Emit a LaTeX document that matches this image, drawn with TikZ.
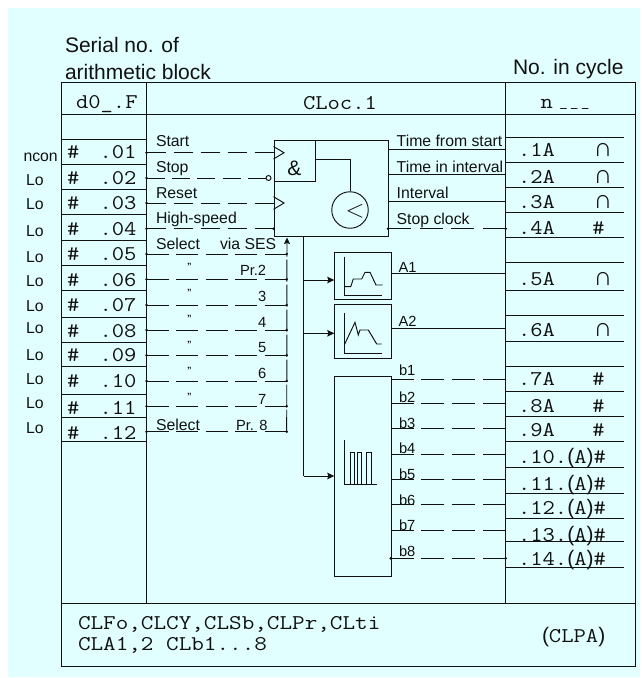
\documentclass[tikz,border=0pt]{standalone}
\usepackage{fontspec}
\setmainfont{Liberation Sans}
\newfontfamily\monof[FakeStretch=1.14]{Latin Modern Mono}
\newfontfamily\monow[FakeStretch=1.165]{Latin Modern Mono}
\usetikzlibrary{arrows.meta}
\definecolor{panel}{HTML}{E2FFFF}
\definecolor{ink}{HTML}{111111}
\tikzset{
  x=1pt,y=-1pt,
  line/.style={draw=ink,line width=0.95pt},
  dash line/.style={line,dash pattern=on 22pt off 7.5pt},
  sans/.style={inner sep=0pt,outer sep=0pt,anchor=base west,text=ink,font=\fontsize{15.8}{17}\selectfont},
  small sans/.style={sans,font=\fontsize{14.7}{16}\selectfont},
  head/.style={inner sep=0pt,outer sep=0pt,anchor=base west,text=ink,font=\fontsize{21}{23}\selectfont},
  mono/.style={inner sep=0pt,outer sep=0pt,anchor=base west,text=ink,font=\monof\fontsize{21}{24}\selectfont},
  mono wide/.style={mono,font=\monow\fontsize{21}{24}\selectfont},
  capsym/.style={inner sep=0pt,outer sep=0pt,anchor=base,text=ink,font=\fontsize{26}{28}\selectfont},
  dotend/.style={fill=ink,circle,inner sep=0pt,minimum size=2.8pt},
  boxed/.style={draw=ink,line width=0.95pt,inner sep=0pt,anchor=north west},
  flow/.style={line,-{Stealth[length=7pt,width=6.5pt,inset=1pt]}},
}
\newcommand{\pa}[1]{{\normalfont\fontsize{21}{24}\selectfont #1}}
\begin{document}
\begin{tikzpicture}
\useasboundingbox (0,0) rectangle (642,678);
\fill[panel] (8,8) rectangle (640,677);
% frame
\coordinate (tl) at (61,82); \coordinate (tr) at (635,82);
\coordinate (bl) at (61,666); \coordinate (br) at (635,666);
\draw[line] (tl) -- (tr) -- (br) -- (bl) -- cycle;
\coordinate (sl) at (61,603); \coordinate (sr) at (635,603);
\draw[line] (sl) -- (sr);
\coordinate (hl) at (61,114); \coordinate (hr) at (635,114);
\draw[line] (hl) -- (hr);
\coordinate (c1t) at (146,82); \coordinate (c1b) at (146,603);
\coordinate (c2t) at (505.7,82); \coordinate (c2b) at (505.7,603);
\draw[line] (c1t) -- (c1b);
\draw[line] (c2t) -- (c2b);
% headings
\node[head] (h1) at (65,52.7) {Serial no. of};
\node[head] (h2) at (65,79) {arithmetic block};
\node[head] (h3) at (513,74.3) {No. in cycle};
\node[mono] (t1) at (76,108) {d0\_.F};
\node[mono] (t2) at (303,109) {CLoc.1};
\node[mono] (t3) at (540.5,108) {n};
\node[inner sep=0pt,anchor=base west,text=ink,font=\monof\fontsize{15}{16}\selectfont] (t4) at (559,106) {\makebox[10.8pt][l]{\_}\makebox[10.8pt][l]{\_}\makebox[10.8pt][l]{\_}};
% left rows
\foreach \i/\y in {0/139,1/164.3,2/189.3,3/214.7,4/240,5/265,6/290.7,7/317,8/342.7,9/366,10/394,11/417,12/441}{
  \coordinate (lra\i) at (61,\y); \coordinate (lrb\i) at (146,\y);
  \draw[line] (lra\i) -- (lrb\i);
}
\foreach \n/\y in {01/158,02/184,03/209.3,04/235,05/260.7,06/286,07/311,08/337.3,09/361.7,10/387,11/414,12/439.3}{
  \node[mono] (hash\n) at (67,\y) {\#};
  \node[mono] (num\n) at (99.5,\y) {.\n};
}
\node[sans] (ncon) at (23.5,161) {ncon};
\foreach \k/\y in {a/185,b/209,c/236,d/262.7,e/286.7,f/311,g/333,h/360,i/384,j/408,k/433}{
  \node[sans] (lo\k) at (26,\y) {Lo};
}
% input lines
\foreach \i/\y in {1/152.7,2/178,3/203,4/228.7,5/254,6/279.3,7/305,8/330,9/355.3,10/381,11/406.3,12/431.7}{
  \node[dotend] (in\i) at (146.5,\y) {};
}
\foreach \i/\y in {5/254,6/279.3,7/305,8/330,9/355.3,10/381,11/406.3,12/431.7}{
  \node[dotend] (bus\i) at (286.7,\y) {};
  \draw[dash line] (in\i.center) -- (bus\i.center);
}
% logic block
\node[boxed,minimum width=114.5pt,minimum height=96pt] (block) at (273.5,140) {};
\node[boxed,minimum width=41.2pt,minimum height=41pt] (andbox) at (273.5,140) {};
\node[inner sep=0pt,text=ink,font=\fontsize{21}{24}\selectfont] (andsign) at (294.5,168) {\&};
\node[draw=ink,line width=0.95pt,circle,minimum size=36.5pt,inner sep=0pt] (cmp) at (350,210) {};
\node[inner sep=0pt,text=ink,font=\fontsize{24}{26}\selectfont] (cmpsign) at (355,211.5) {$<$};
\coordinate (and out) at (314.7,159);
\coordinate (cmp top) at (350,159);
\draw[line] (and out) -- (cmp top) -- (cmp.north);
% inputs to block
\coordinate (clk1) at (273.5,152.7); \coordinate (clk3) at (273.5,203); \coordinate (hs) at (273.5,228.7);
\node[draw=ink,line width=0.95pt,circle,inner sep=0pt,minimum size=5pt] (inv) at (268.5,178) {};
\draw[line,dash pattern=on 19pt off 8pt] (in1.center) -- (clk1);
\draw[line,dash pattern=on 18pt off 7.4pt] (in2.center) -- (inv.west);
\draw[line,dash pattern=on 19pt off 8pt] (in3.center) -- (clk3);
\draw[line,dash pattern=on 19pt off 8pt] (in4.center) -- (hs);
\draw[line] (273.5,146.5) -- (284,152.7) -- (273.5,159);
\draw[line] (273.5,196.7) -- (284,203) -- (273.5,209.3);
\node[dotend] (hsd) at (hs) {};
% SES bus
\coordinate (bustip) at (287,237.5);
\draw[line,dash pattern=on 22pt off 3pt,-{Stealth[length=6.5pt,width=6pt,inset=1pt]}] (bus12.center) -- (bustip);
% labels inputs
\node[sans] (l1) at (156,146) {Start};
\node[sans] (l2) at (156,172) {Stop};
\node[sans] (l3) at (156,198) {Reset};
\node[sans] (l4) at (156,223) {High-speed};
\node[sans] (l5) at (156,249) {Select};
\node[sans] (l5b) at (220,249) {via SES};
\node[small sans] (l6b) at (240,275) {Pr.2};
\node[small sans] (l7b) at (258,301) {3};
\node[small sans] (l8b) at (258,327) {4};
\node[small sans] (l9b) at (258,352) {5};
\node[small sans] (l10b) at (258,378) {6};
\node[small sans] (l11b) at (258,404) {7};
\node[sans] (l12) at (156,430) {Select};
\node[small sans] (l12b) at (236,430) {Pr. 8};
\foreach \n/\y in {a/269,b/295.5,c/321.5,d/347,e/373,f/399}{
  \node[sans,font=\fontsize{9}{10}\selectfont\bfseries] (q\n) at (187,\y) {”};
}
% outputs of block
\foreach \n/\y in {1/149,2/174.7,3/201}{
  \coordinate (oa\n) at (388,\y); \coordinate (ob\n) at (505.7,\y);
  \draw[line] (oa\n) -- (ob\n);
}
\node[dotend] (oa4) at (388,228.7) {};
\node[dotend] (ob4) at (505.7,228.7) {};
\draw[line,dash pattern=on 23pt off 8.6pt] (oa4.center) -- (ob4.center);
\node[sans] (o1) at (396.7,146) {Time from start};
\node[sans] (o2) at (396.7,172) {Time in interval};
\node[sans] (o3) at (396.7,198) {Interval};
\node[sans] (o4) at (396.7,224) {Stop clock};
% function boxes
\node[boxed,minimum width=56.4pt,minimum height=47pt] (fa) at (334.3,252) {};
\node[boxed,minimum width=56.4pt,minimum height=53.7pt] (fb) at (334.3,304) {};
\node[boxed,minimum width=56.4pt,minimum height=200.3pt] (fc) at (334.3,375.7) {};
% feed
\coordinate (feed0) at (303.7,236);
\coordinate (feed1) at (303.7,280);
\coordinate (feed2) at (303.7,333.3);
\coordinate (feed3) at (303.7,476);
\coordinate (ta) at (334.3,280);
\coordinate (tb) at (334.3,333.3);
\coordinate (tc) at (334.3,476);
\draw[line] (feed0) -- (feed3);
\draw[flow] (feed1) -- (ta);
\draw[flow] (feed2) -- (tb);
\draw[flow] (feed3) -- (tc);
% mini plots
\draw[line] (344.3,256.7) -- (344.3,295) -- (381.7,295);
\draw[line] (345,286.7) -- (350.7,286.7) -- (353.3,279) -- (361.7,279) -- (365,272.3) -- (370,272.3) -- (376,285) -- (382.7,285);
\draw[line] (344.3,313) -- (344.3,353.3) -- (381.7,353.3);
\draw[line] (344.3,345) -- (355,322.3) -- (358.3,335) -- (360,330) -- (368.3,330) -- (376.7,344) -- (381.7,344);
\draw[line] (344,440) -- (344,484) -- (377.3,484);
\foreach \a/\b in {350/354,357.3/361,366.7/371}{
  \draw[line] (\a,484) -- (\a,452.3) -- (\b,452.3) -- (\b,484);
}
% A outputs
\coordinate (a1s) at (390.7,273.3); \coordinate (a1e) at (505.7,273.3);
\coordinate (a2s) at (390.7,328.7); \coordinate (a2e) at (505.7,328.7);
\draw[line] (a1s) -- (a1e);
\draw[line] (a2s) -- (a2e);
\node[small sans] (la1) at (398.5,272.7) {A1};
\node[small sans] (la2) at (398.5,326) {A2};
% b outputs
\foreach \n/\y/\yy in {1/379.7/375.7,2/403.3/402,3/428.3/428,4/454.7/453,5/479/479,6/504/505,7/530.3/530.7,8/558.3/556.7}{
  \coordinate (bs\n) at (390.7,\y); \coordinate (be\n) at (505.7,\y);
  \draw[line,dash pattern=on 23pt off 7.7pt] (bs\n) -- (be\n);
  \node[small sans] (lb\n) at (399,\yy) {b\n};
}
\node[dotend] (b8s) at (bs8) {};
\node[dotend] (b8e) at (be8) {};
% right rows
\foreach \i/\y in {0/137.7,1/162.3,2/187.7,3/212.3,4/237.3,5/262.3,6/290.7,7/315.7,8/341.7,9/366,10/391.7,11/416.3,12/441,13/467.7,14/493.7,15/518.3,16/541.7,17/567.7}{
  \coordinate (qa\i) at (505.7,\y); \coordinate (qb\i) at (624,\y);
  \draw[line] (qa\i) -- (qb\i);
}
\foreach \n/\y in {1/156.7,2/183,3/208,4/234,5/285,6/336.7,7/385.7,8/412,9/436.7}{
  \node[mono] (rta\n) at (518,\y) {.\n A};
}
\foreach \n/\y in {10/463,11/490,12/514,13/541,14/565}{
  \node[mono] (rtb\n) at (518,\y) {.\n.\pa{(}A\pa{)}\#};
}
\foreach \k/\y in {a/156.7,b/183,c/208,d/285,e/336.7}{
  \node[capsym] (cap\k) at (603,\y) {∩};
}
\foreach \k/\y in {a/234,b/385.7,c/412,d/436.7}{
  \node[mono,anchor=base] (sh\k) at (598.5,\y) {\#};
}
% bottom
\node[mono wide] (bt1) at (78,629) {CLFo,CLCY,CLSb,CLPr,CLti};
\node[mono wide] (bt2) at (78,650.7) {CLA1,2 CLb1...8};
\node[mono] (bt3) at (542,642.7) {\pa{(}CLPA\pa{)}};
\end{tikzpicture}
\end{document}
